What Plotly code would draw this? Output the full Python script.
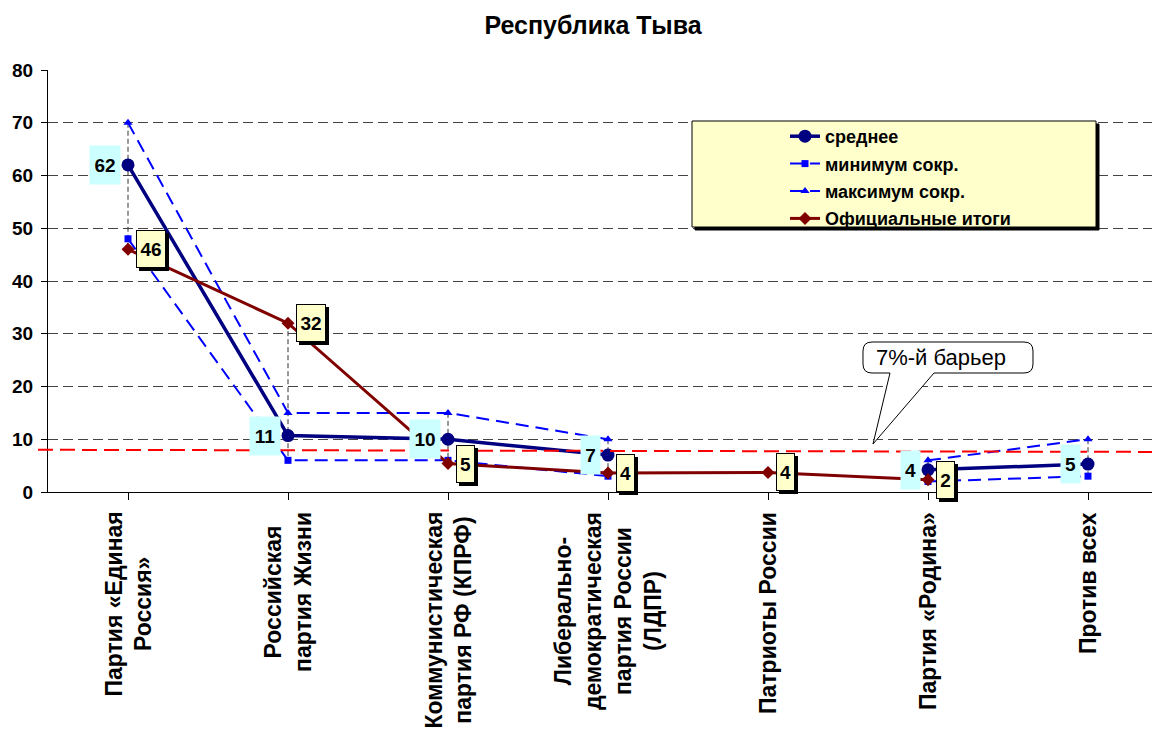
import plotly.graph_objects as go

# data
parties = ["Партия «Единая<br>Россия»", "Российская<br>партия Жизни",
           "Коммунистическая<br>партия РФ (КПРФ)",
           "Либерально-<br>демократическая<br>партия России<br>(ЛДПР)",
           "Патриоты России", "Партия «Родина»", "Против всех"]
mean_vals = [62, 10.7, 10, 7, None, 4.2, 5.3]
min_vals = [48, 6, 6, 3, None, 2, 3]
max_vals = [70, 15, 15, 10, None, 6, 10]
official = [46, 32, 5.4, 3.6, 3.7, 2.3, None]
barrier = (8.0, 7.6)

FONT = "Arial, Liberation Sans, sans-serif"
xs = list(range(len(parties)))

# plot area in page pixels (page body has an 8px margin)
BODY = 8
L, T, W, H = 48, 70, 1112, 422


def px(x, y):
    return (x - L) / W, (T + H - y) / H


fig = go.Figure()

# high-low lines
hx, hy = [], []
for i in xs:
    v = [s[i] for s in (mean_vals, min_vals, max_vals, official) if s[i] is not None]
    if len(v) > 1:
        hx += [i, i, None]
        hy += [max(v), min(v), None]
fig.add_trace(go.Scatter(x=hx, y=hy, mode="lines", showlegend=False, hoverinfo="skip",
                         line=dict(color="#333333", width=1, dash="5px,3px")))

fig.add_trace(go.Scatter(x=xs, y=mean_vals, name="среднее", mode="lines+markers",
                         legendgroup="a", line=dict(color="#000080", width=3.5),
                         marker=dict(symbol="circle", size=13, color="#000080")))
fig.add_trace(go.Scatter(x=xs, y=min_vals, name="минимум сокр.", mode="lines+markers",
                         legendgroup="b", line=dict(color="#0000FF", width=2, dash="13px,7px"),
                         marker=dict(symbol="square", size=7, color="#0000FF")))
fig.add_trace(go.Scatter(x=xs, y=max_vals, name="максимум сокр.", mode="lines+markers",
                         legendgroup="c", line=dict(color="#0000FF", width=2, dash="13px,7px"),
                         marker=dict(symbol="triangle-up", size=8, color="#0000FF")))
fig.add_trace(go.Scatter(x=xs, y=official, name="Официальные итоги", mode="lines+markers",
                         legendgroup="d", line=dict(color="#800000", width=3),
                         marker=dict(symbol="diamond", size=10, color="#800000")))

lab_font = dict(family=FONT, size=19, color="black", weight="bold")

# value labels
for i in xs:
    m = mean_vals[i]
    if m is not None:
        t = str(round(m))
        w = 11 * len(t)
        fig.add_annotation(x=i, y=m, text=t, showarrow=False, xshift=-(w / 2 + 12),
                           font=lab_font, bgcolor="#CCFFFF", borderpad=4, width=w, height=30)
    o = official[i]
    if o is not None:
        t = str(round(o))
        w = 11 * len(t)
        for sh, bg in ((3, "#000000"), (0, "#FFFFCC")):
            fig.add_annotation(x=i, y=o, text=t if sh == 0 else "", showarrow=False,
                               xshift=w / 2 + 12 + sh, yshift=-sh, font=lab_font,
                               bgcolor=bg, bordercolor="#000000", borderwidth=1, borderpad=3,
                               width=w, height=30)

# category labels, centred lines, rotated
for i in xs:
    fig.add_annotation(x=i, y=0, yref="paper", yshift=-18, text=parties[i], showarrow=False,
                       textangle=-90, xanchor="center", yanchor="top", align="center",
                       font=dict(family=FONT, size=23, color="black", weight="bold"))

shapes = []
# 7% barrier line
x0, _ = px(38, 0)
x1, _ = px(1153, 0)
shapes.append(dict(type="line", xref="paper", yref="y", x0=x0, x1=x1,
                   y0=barrier[0], y1=barrier[1],
                   line=dict(color="#FF0000", width=2, dash="15px,7px")))

# legend box + shadow
for off, fill in ((3, "#000000"), (0, "#FFFFCC")):
    a = px(692 + off, 121 + off)
    b = px(1096 + off, 227 + off)
    shapes.append(dict(type="rect", xref="paper", yref="paper", layer="above",
                       x0=a[0], y0=b[1], x1=b[0], y1=a[1], fillcolor=fill,
                       line=dict(color="#000000", width=1)))

# callout
bx0, by0, bx1, by1, r = 863, 342, 1033, 373, 9
pts = [("M", bx0 + r, by0), ("L", bx1 - r, by0), ("Q", bx1, by0, bx1, by0 + r),
       ("L", bx1, by1 - r), ("Q", bx1, by1, bx1 - r, by1), ("L", 934, by1),
       ("L", 873, 444), ("L", 890, by1), ("L", bx0 + r, by1),
       ("Q", bx0, by1, bx0, by1 - r), ("L", bx0, by0 + r), ("Q", bx0, by0, bx0 + r, by0)]
path = ""
for p in pts:
    cmd, c = p[0], p[1:]
    seg = []
    for k in range(0, len(c), 2):
        u, v = px(c[k], c[k + 1])
        seg.append(f"{u:.5f},{v:.5f}")
    path += cmd + " ".join(seg) + " "
shapes.append(dict(type="path", xref="paper", yref="paper", layer="above", path=path + "Z",
                   fillcolor="white", line=dict(color="black", width=1)))
cx, cy = px(941, 357)
fig.add_annotation(xref="paper", yref="paper", x=cx, y=cy, text="7%-й барьер",
                   showarrow=False, xanchor="center", yanchor="middle",
                   font=dict(family=FONT, size=22, color="black"))

fig.update_layout(
    width=1160, height=729,
    margin=dict(l=L - BODY, r=1160 - (L - BODY) - W, t=T - BODY, b=729 - (T - BODY) - H),
    paper_bgcolor="white", plot_bgcolor="white",
    font=dict(family=FONT, color="black"),
    title=dict(text="<b>Республика Тыва</b>", x=(593 - BODY) / 1160, xanchor="center",
               y=1 - (25 - BODY) / 729, yanchor="middle", font=dict(size=25, family=FONT)),
    shapes=shapes,
    showlegend=True,
    legend=dict(x=px(785, 0)[0], y=px(0, 118)[1], xanchor="left", yanchor="top",
                bgcolor="rgba(0,0,0,0)", borderwidth=0, traceorder="grouped",
                tracegroupgap=1, font=dict(size=18, family=FONT, weight="bold")),
)
fig.update_xaxes(tickmode="array", tickvals=xs, ticktext=[""] * len(xs),
                 range=[-0.5, -0.5 + W / 160], automargin=False,
                 showline=True, linecolor="black",
                 linewidth=1, ticks="outside", ticklen=7, tickcolor="black",
                 tickson="boundaries", showgrid=False, zeroline=False, fixedrange=True)
fig.update_yaxes(range=[0, 80], dtick=10, tickformat="d", showline=True, linecolor="black",
                 linewidth=1, ticks="outside", ticklen=6, tickcolor="black", automargin=False,
                 ticklabelstandoff=4,
                 tickfont=dict(size=19, family=FONT, weight="bold"),
                 showgrid=True, gridcolor="#444444", gridwidth=1, griddash="10px,5px",
                 zeroline=False)

fig.write_html("out.html")
